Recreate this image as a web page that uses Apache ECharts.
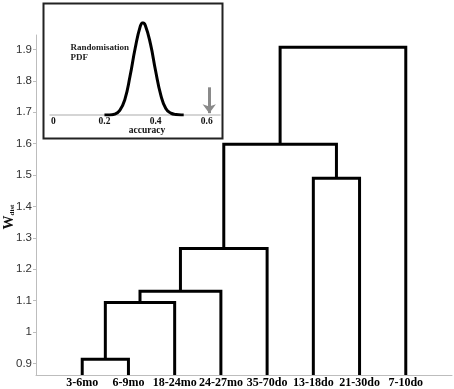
<!DOCTYPE html>
<html>
<head>
<meta charset="utf-8">
<script src="https://cdn.jsdelivr.net/npm/echarts@6/dist/echarts.min.js"></script>
<style>
  html, body { margin: 0; padding: 0; background: #fff; }
  #dendro { width: 454px; height: 389px; }
</style>
</head>
<body>
<div id="dendro"></div>
<script>
  // leaves, left to right
  var leafNames = ['3-6mo', '6-9mo', '18-24mo', '24-27mo', '35-70do', '13-18do', '21-30do', '7-10do'];
  // merges (matlab style: leaves are 1..8, new clusters 9, 10, ...)
  var mergeA = [1, 9, 10, 11, 6, 12, 14];
  var mergeB = [2, 3, 4, 5, 7, 13, 8];
  var mergeHeight = [0.913, 1.094, 1.130, 1.266, 1.490, 1.598, 1.907];
  var yTicks = [0.9, 1, 1.1, 1.2, 1.3, 1.4, 1.5, 1.6, 1.7, 1.8, 1.9];

  // inset: randomisation pdf (height relative to peak)
  var pdfAccuracy = [0.20, 0.22, 0.24, 0.26, 0.28, 0.30, 0.32, 0.34, 0.35, 0.36, 0.38, 0.40, 0.42, 0.44, 0.46, 0.48, 0.50, 0.51];
  var pdfValue = [0, 0, 0.01, 0.05, 0.17, 0.42, 0.72, 0.96, 1.0, 0.97, 0.77, 0.48, 0.22, 0.07, 0.02, 0.005, 0, 0];
  var insetTicks = [0, 0.2, 0.4, 0.6];
  var observedAccuracy = 0.61;

  var yMin = 0.863, yMax = 1.946;

  // node x position / height
  var nodeX = {}, nodeH = {};
  leafNames.forEach(function (n, i) {
    nodeX[i + 1] = i + 1;
    nodeH[i + 1] = yMin;
  });

  var series = [];
  for (var k = 0; k < mergeA.length; k++) {
    var a = mergeA[k], b = mergeB[k], h = mergeHeight[k];
    series.push({
      type: 'line',
      xAxisIndex: 0,
      yAxisIndex: 0,
      symbol: 'none',
      animation: false,
      lineStyle: { color: '#000', width: 3, join: 'miter' },
      data: [[nodeX[a], nodeH[a]], [nodeX[a], h], [nodeX[b], h], [nodeX[b], nodeH[b]]]
    });
    var id = leafNames.length + 1 + k;
    nodeX[id] = (nodeX[a] + nodeX[b]) / 2;
    nodeH[id] = h;
  }

  series.push({
    type: 'line',
    xAxisIndex: 1,
    yAxisIndex: 1,
    smooth: true,
    symbol: 'none',
    animation: false,
    lineStyle: { color: '#000', width: 3 },
    data: pdfAccuracy.map(function (x, i) { return [x, pdfValue[i]]; }),
    markLine: {
      silent: true,
      animation: false,
      symbol: ['none', 'arrow'],
      symbolSize: [10, 9],
      label: { show: false },
      lineStyle: { color: '#8a8a8a', width: 3, type: 'solid' },
      data: [[{ coord: [observedAccuracy, 0.30] }, { coord: [observedAccuracy, 0.02] }]]
    }
  });

  var chart = echarts.init(document.getElementById('dendro'));
  var option = {
    animation: false,
    grid: [
      { left: 36, right: 2, top: 35, bottom: 14, outerBoundsMode: 'none' },
      { left: 50, width: 170, top: 22.7, height: 92.3, outerBoundsMode: 'none' }
    ],
    xAxis: [{
      type: 'value',
      gridIndex: 0,
      min: 0,
      max: 9,
      splitLine: { show: false },
      axisTick: { show: false },
      axisLine: { lineStyle: { color: '#bdbdbd', width: 1 } },
      axisLabel: {
        customValues: [1, 2, 3, 4, 5, 6, 7, 8],
        formatter: function (v) { return leafNames[Math.round(v) - 1]; },
        fontFamily: 'Liberation Serif',
        fontWeight: 'bold',
        fontSize: 12,
        color: '#000',
        margin: 2
      }
    }, {
      type: 'value',
      gridIndex: 1,
      min: -0.013,
      max: 0.652,
      splitLine: { show: false },
      axisTick: { show: false },
      axisLine: { lineStyle: { color: '#c8c8c8', width: 1.5 } },
      axisLabel: {
        customValues: insetTicks,
        formatter: function (v) { return v === 0 ? '0' : v.toFixed(1); },
        fontFamily: 'Liberation Serif',
        fontWeight: 'bold',
        fontSize: 9.5,
        color: '#111',
        margin: 2
      },
      name: 'accuracy',
      nameLocation: 'middle',
      nameGap: 11,
      nameMoveOverlap: false,
      nameTextStyle: {
        fontFamily: 'Liberation Serif',
        fontWeight: 'bold',
        fontSize: 9.5,
        color: '#111',
        padding: [0, 0, 0, 24]
      }
    }],
    yAxis: [{
      type: 'value',
      gridIndex: 0,
      min: yMin,
      max: yMax,
      splitLine: { show: false },
      axisLine: { show: true, lineStyle: { color: '#bdbdbd', width: 1 } },
      axisTick: { show: true, customValues: yTicks, length: 3, lineStyle: { color: '#bdbdbd' } },
      axisLabel: {
        customValues: yTicks,
        fontFamily: 'Liberation Sans',
        fontSize: 11.5,
        color: '#333',
        margin: 4
      },
      name: '{w|W}{d|dist}',
      nameLocation: 'middle',
      nameRotate: 90,
      nameGap: 20,
      nameMoveOverlap: false,
      nameTextStyle: {
        padding: [0, 24, 0, 0],
        rich: {
          w: { fontFamily: 'Liberation Serif', fontWeight: 'bold', fontSize: 14, color: '#111' },
          d: { fontFamily: 'Liberation Serif', fontWeight: 'bold', fontSize: 7, color: '#111', padding: [6, 0, 0, 0] }
        }
      }
    }, {
      type: 'value',
      gridIndex: 1,
      min: 0,
      max: 1,
      show: false
    }],
    graphic: [{
      type: 'rect',
      shape: { x: 43.5, y: 3.5, width: 179, height: 135 },
      style: { fill: 'none', stroke: '#222', lineWidth: 2 }
    }, {
      type: 'text',
      left: 70.5,
      top: 43,
      style: {
        text: 'Randomisation\nPDF',
        font: 'bold 9px "Liberation Serif"',
        lineHeight: 9.5,
        fill: '#222'
      }
    }],
    series: series
  };
  chart.setOption(option);
</script>
</body>
</html>
